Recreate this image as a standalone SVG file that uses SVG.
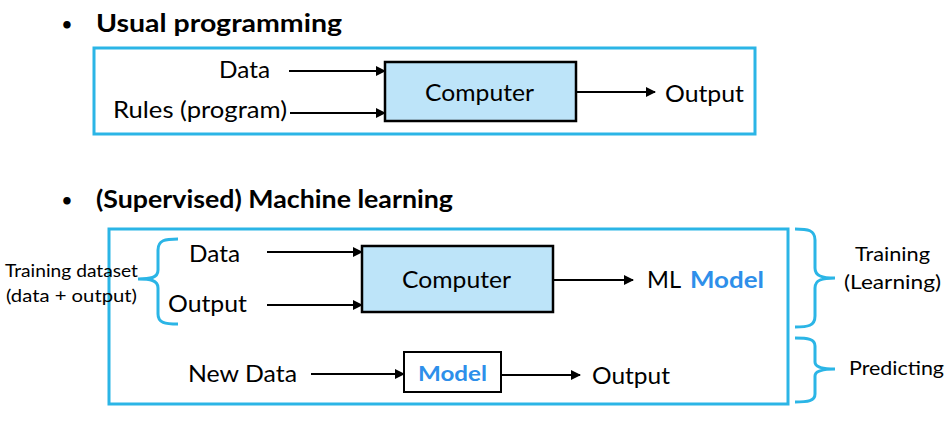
<svg xmlns="http://www.w3.org/2000/svg" width="948" height="432" viewBox="0 0 948 432">
<defs>
<marker id="ah" markerWidth="10" markerHeight="10" refX="9" refY="5" orient="auto" markerUnits="userSpaceOnUse"><path d="M0,0 L10,5 L0,10 z" fill="#000"/></marker>
<style>
text{font-family:Lato,"Open Sans","Liberation Sans",sans-serif;fill:#000}
.h{font-size:25px;font-weight:bold}
.bul{font-size:17px;font-weight:bold}
.t{font-size:23px}
.s{font-size:18px}
.r{font-size:20px}
.b{fill:#2e8fea;font-weight:bold}
.frame{fill:#fff;stroke:#2bb5e6;stroke-width:3}
.comp{fill:#bde4f9;stroke:#000;stroke-width:2.5}
.mod{fill:#fff;stroke:#000;stroke-width:2}
.brace{fill:none;stroke:#2bb5e6;stroke-width:3}
.c{stroke:#000;stroke-width:2;fill:none;marker-end:url(#ah)}
</style>
</defs>
<rect width="948" height="432" fill="#fff"/>
<g id="title1"><text x="62" y="30" class="bul">•</text><text x="96" y="32" class="h" textLength="246" lengthAdjust="spacingAndGlyphs">Usual programming</text></g>
<g id="frame1"><rect class="frame" x="94" y="48" width="661" height="86"/></g>
<g id="title2"><text x="62" y="206" class="bul">•</text><text x="96" y="208" class="h" textLength="357" lengthAdjust="spacingAndGlyphs">(Supervised) Machine learning</text></g>
<g id="frame2"><rect class="frame" x="109" y="229" width="679" height="175"/></g>

<g id="data1"><text x="219" y="78" class="t" textLength="51" lengthAdjust="spacingAndGlyphs">Data</text></g>
<g id="rules"><text x="113" y="118" class="t" textLength="174" lengthAdjust="spacingAndGlyphs">Rules (program)</text></g>
<g id="computer1"><rect class="comp" x="385" y="62" width="191" height="59"/><text x="425" y="101" class="t" textLength="109" lengthAdjust="spacingAndGlyphs">Computer</text></g>
<g id="output1"><text x="665" y="102" class="t" textLength="79" lengthAdjust="spacingAndGlyphs">Output</text></g>

<g id="dataset"><path class="brace" d="M178,239 C165,239 158,240 158,250 L158,270 C158,278 150,279 138,279 C150,279 158,280 158,288 L158,314 C158,323 165,324 178,324"/><text x="5" y="277" class="s" textLength="133" lengthAdjust="spacingAndGlyphs">Training dataset</text><text x="6" y="302" class="s" textLength="131" lengthAdjust="spacingAndGlyphs">(data + output)</text></g>
<g id="data2"><text x="189" y="262" class="t" textLength="51" lengthAdjust="spacingAndGlyphs">Data</text></g>
<g id="output2"><text x="168" y="312" class="t" textLength="79" lengthAdjust="spacingAndGlyphs">Output</text></g>
<g id="computer2"><rect class="comp" x="362" y="246" width="191" height="66"/><text x="402" y="288" class="t" textLength="109" lengthAdjust="spacingAndGlyphs">Computer</text></g>
<g id="mlmodel"><text x="647" y="288" class="t" textLength="34" lengthAdjust="spacingAndGlyphs">ML</text><text x="690" y="288" class="t b" textLength="74" lengthAdjust="spacingAndGlyphs">Model</text></g>
<g id="newdata"><text x="188" y="382" class="t" textLength="109" lengthAdjust="spacingAndGlyphs">New Data</text></g>
<g id="model"><rect class="mod" x="404" y="352" width="97" height="40"/><text x="418" y="381" class="t b" style="font-size:21px" textLength="69" lengthAdjust="spacingAndGlyphs">Model</text></g>
<g id="output3"><text x="592" y="384" class="t" textLength="78" lengthAdjust="spacingAndGlyphs">Output</text></g>

<g id="training"><path class="brace" d="M795,229 C808,229 815,230 815,240 L815,268 C815,276 822,278 835,278 C822,278 815,280 815,288 L815,316 C815,326 808,327 795,327"/><text x="855" y="261" class="r" textLength="75" lengthAdjust="spacingAndGlyphs">Training</text><text x="844" y="289" class="r" textLength="97" lengthAdjust="spacingAndGlyphs">(Learning)</text></g>
<g id="predicting"><path class="brace" d="M795,338 C808,338 815,339 815,346 L815,362 C815,367 822,369 835,369 C822,369 815,371 815,376 L815,394 C815,401 808,402 795,402"/><text x="849" y="375" class="r" textLength="95" lengthAdjust="spacingAndGlyphs">Predicting</text></g>

<g id="connectors">
<line class="c" x1="289" y1="71" x2="385" y2="71"/>
<line class="c" x1="290" y1="113" x2="385" y2="113"/>
<line class="c" x1="576" y1="92" x2="655" y2="92"/>
<line class="c" x1="267" y1="252" x2="362" y2="252"/>
<line class="c" x1="267" y1="305" x2="362" y2="305"/>
<line class="c" x1="553" y1="280" x2="633" y2="280"/>
<line class="c" x1="311" y1="374" x2="404" y2="374"/>
<line class="c" x1="501" y1="375" x2="580" y2="375"/>
</g>
</svg>
